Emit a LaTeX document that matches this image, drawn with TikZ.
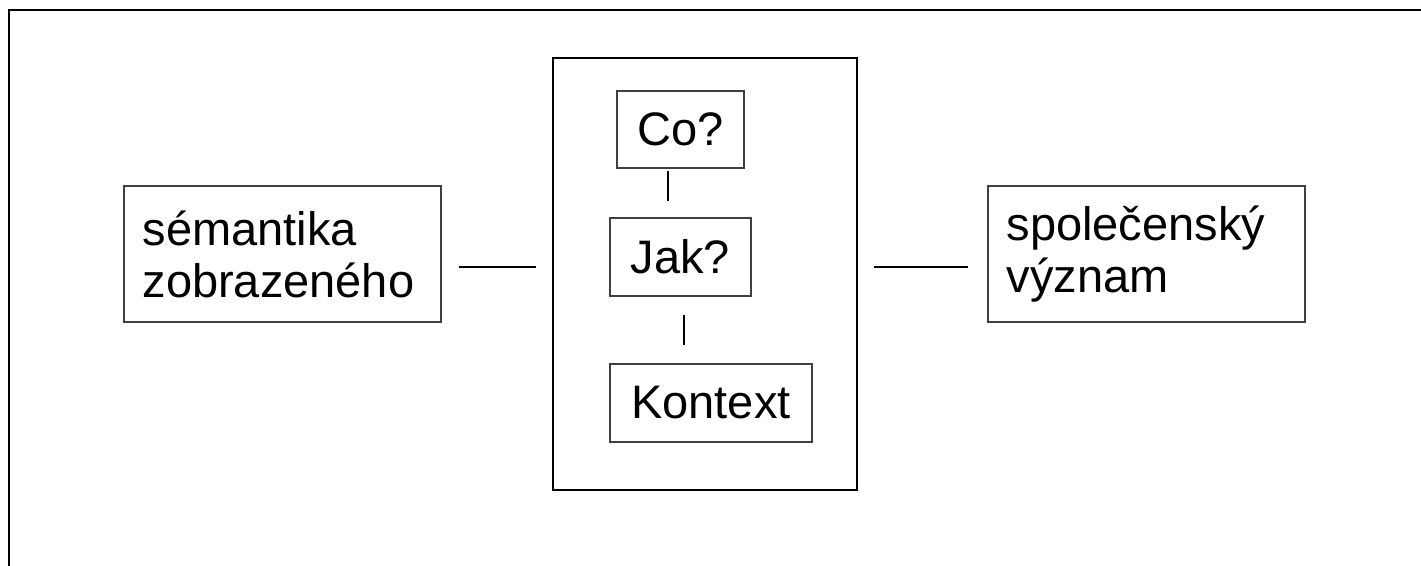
\documentclass[tikz,border=0pt]{standalone}
\usepackage{fontspec}
\setmainfont{Liberation Sans}
\usetikzlibrary{calc}
\begin{document}
\begin{tikzpicture}[x=0.5pt,y=-0.5pt,
  frame/.style={line width=1pt,draw=black},
  smallbox/.style={draw=black!75,line width=0.55pt,inner sep=0pt,
    font=\fontsize{23.5}{26}\selectfont},
  sidebox/.style={smallbox,minimum width=158.5pt,minimum height=68pt,
    text width=140pt,align=left},
  link/.style={line width=0.6pt,draw=black}]
\useasboundingbox (0,0) rectangle (1421,566);
% outer frame (cut by the page at right and bottom)
\draw[frame] (9,580) -- (9,10) -- (1440,10);
% middle frame
\node[frame,minimum width=152pt,minimum height=216pt,inner sep=0pt] (mid) at (705,274) {};
% side boxes
\node[sidebox] (sem) at (282.5,254) {sémantika\\zobrazeného};
\node[sidebox] (spo) at (1146.5,254) {společenský\\význam};
% inner boxes
\node[smallbox,minimum width=63.5pt,minimum height=38.5pt] (co) at (680.5,129.5) {Co?};
\node[smallbox,minimum width=70.5pt,minimum height=39pt] (jak) at (680.5,257) {Jak?};
\node[smallbox,minimum width=101pt,minimum height=39pt] (kon) at (711,403) {Kontext};
% connectors
\draw[link] ($(sem.east)+(17,13)$) -- ($(mid.west)+(-16,-7)$);
\draw[link] ($(mid.east)+(16,-7)$) -- ($(spo.west)+(-19,13)$);
\draw[link] ($(co.south)+(-12.5,2)$) -- ($(jak.north)+(-12.5,-16)$);
\draw[link] ($(jak.south)+(3.5,18)$) -- ($(kon.north)+(-27,-18)$);
\end{tikzpicture}
\end{document}
